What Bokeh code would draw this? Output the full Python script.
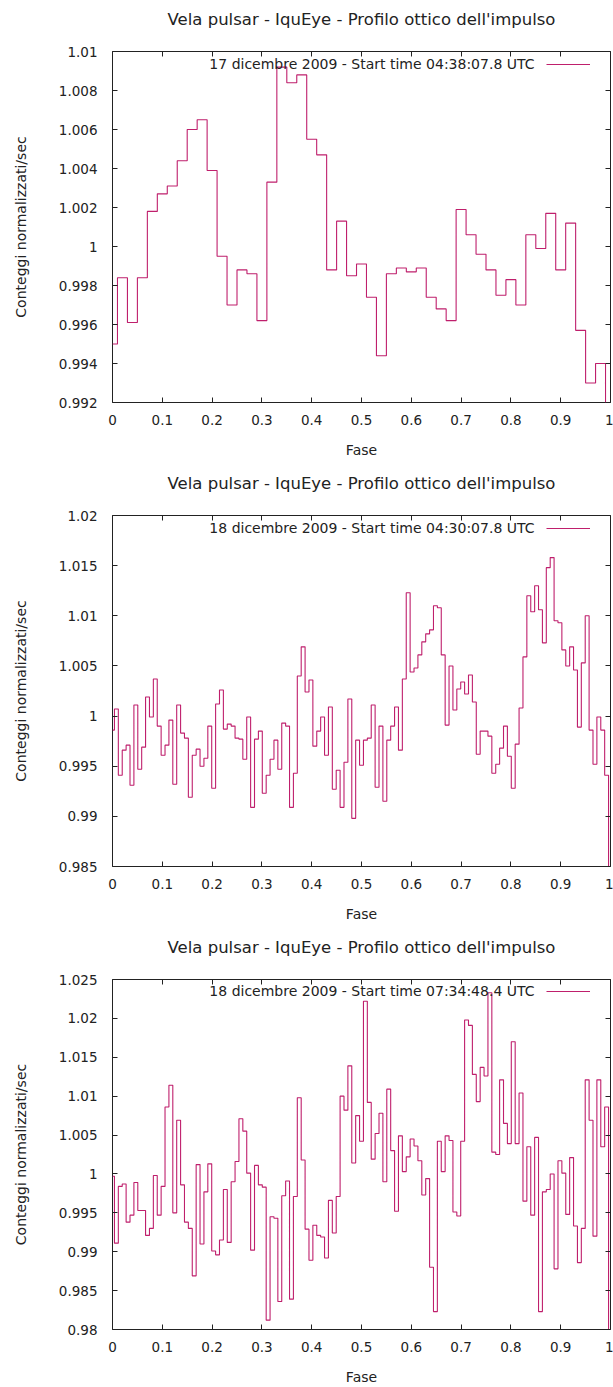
from bokeh.plotting import figure
from bokeh.layouts import column
from bokeh.models import FixedTicker, LinearAxis, Range1d, Label, Legend, LegendItem, Title
from bokeh.embed import file_html
from bokeh.resources import INLINE

# ---------------------------------------------------------------- data
TITLE = "Vela pulsar - IquEye - Profilo ottico dell'impulso"
X_LABEL = "Fase"
Y_LABEL = "Conteggi normalizzati/sec"

phase_ticks = [0.0, 0.1, 0.2, 0.3, 0.4, 0.5, 0.6, 0.7, 0.8, 0.9, 1.0]
phase_labels = ["0", "0.1", "0.2", "0.3", "0.4", "0.5", "0.6", "0.7", "0.8", "0.9", "1"]

# 17 Dec 2009, start 04:38:07.8 UTC - 50 phase bins
note_1 = "17 dicembre 2009 - Start time 04:38:07.8 UTC"
profile_1 = [
    0.9950, 0.9984, 0.9961, 0.9984, 1.0018, 1.0027, 1.0031, 1.0044, 1.0060, 1.0065,
    1.0039, 0.9995, 0.9970, 0.9988, 0.9986, 0.9962, 1.0033, 1.0092, 1.0084, 1.0088,
    1.0055, 1.0047, 0.9988, 1.0013, 0.9985, 0.9991, 0.9974, 0.9944, 0.9986, 0.9989,
    0.9987, 0.9989, 0.9974, 0.9968, 0.9962, 1.0019, 1.0006, 0.9996, 0.9988, 0.9975,
    0.9983, 0.9970, 1.0006, 0.9999, 1.0017, 0.9988, 1.0012, 0.9957, 0.9930, 0.9940,
]
y_ticks_1 = [0.992, 0.994, 0.996, 0.998, 1.0, 1.002, 1.004, 1.006, 1.008, 1.01]
y_labels_1 = ["0.992", "0.994", "0.996", "0.998", "1", "1.002", "1.004", "1.006", "1.008", "1.01"]

# 18 Dec 2009, start 04:30:07.8 UTC - 128 phase bins
note_2 = "18 dicembre 2009 - Start time 04:30:07.8 UTC"
profile_2 = [
    0.9986, 1.0007, 0.9941, 0.9966, 0.9971, 0.9931, 1.0011, 0.9947, 0.9969, 1.0019,
    0.9999, 1.0037, 0.9990, 0.9961, 0.9971, 0.9996, 0.9932, 1.0011, 0.9983, 0.9978,
    0.9919, 0.9961, 0.9967, 0.9950, 0.9958, 0.9990, 0.9928, 1.0012, 1.0026, 0.9987,
    0.9992, 0.9990, 0.9978, 0.9977, 0.9957, 0.9999, 0.9909, 0.9977, 0.9985, 0.9923,
    0.9941, 0.9957, 0.9976, 0.9947, 0.9993, 0.9990, 0.9909, 0.9943, 1.0040, 1.0069,
    1.0024, 1.0036, 0.9970, 0.9985, 0.9999, 0.9961, 1.0009, 0.9927, 0.9946, 0.9909,
    0.9954, 1.0017, 0.9898, 0.9976, 0.9951, 0.9976, 0.9978, 1.0011, 0.9929, 0.9990,
    0.9915, 0.9976, 0.9990, 1.0009, 0.9966, 1.0037, 1.0123, 1.0044, 1.0048, 1.0061,
    1.0074, 1.0082, 1.0086, 1.0110, 1.0108, 1.0061, 0.9991, 1.0050, 1.0006, 1.0027,
    1.0034, 1.0022, 1.0041, 1.0014, 0.9962, 0.9985, 0.9985, 0.9980, 0.9943, 0.9952,
    0.9968, 0.9990, 0.9960, 0.9928, 0.9972, 1.0008, 1.0059, 1.0120, 1.0104, 1.0130,
    1.0106, 1.0073, 1.0148, 1.0158, 1.0095, 1.0093, 1.0066, 1.0050, 1.0069, 1.0046,
    0.9989, 1.0053, 1.0100, 0.9986, 0.9952, 0.9999, 0.9986, 0.9941,
]
y_ticks_2 = [0.985, 0.99, 0.995, 1.0, 1.005, 1.01, 1.015, 1.02]
y_labels_2 = ["0.985", "0.99", "0.995", "1", "1.005", "1.01", "1.015", "1.02"]

# 18 Dec 2009, start 07:34:48.4 UTC - 128 phase bins
note_3 = "18 dicembre 2009 - Start time 07:34:48.4 UTC"
profile_3 = [
    0.9997, 0.9911, 0.9984, 0.9987, 0.9938, 0.9947, 0.9989, 0.9953, 0.9953, 0.9921,
    0.9930, 0.9998, 0.9947, 0.9984, 1.0086, 1.0114, 0.9950, 1.0069, 0.9986, 0.9938,
    0.9930, 0.9869, 1.0012, 0.9910, 0.9977, 1.0013, 0.9901, 0.9896, 0.9915, 0.9980,
    0.9912, 0.9990, 1.0016, 1.0071, 1.0055, 1.0001, 0.9902, 1.0011, 0.9986, 0.9983,
    0.9812, 0.9945, 0.9943, 0.9836, 0.9972, 0.9991, 0.9839, 0.9971, 1.0098, 1.0018,
    0.9929, 0.9889, 0.9934, 0.9921, 0.9919, 0.9892, 0.9966, 0.9924, 0.9971, 1.0100,
    1.0082, 1.0139, 1.0014, 1.0075, 1.0042, 1.0222, 1.0092, 1.0019, 1.0052, 1.0078,
    0.9990, 1.0109, 1.0030, 0.9952, 1.0049, 1.0003, 1.0022, 1.0045, 1.0036, 1.0017,
    0.9973, 0.9994, 0.9880, 0.9823, 1.0042, 1.0003, 1.0049, 1.0043, 0.9951, 0.9946,
    1.0042, 1.0198, 1.0191, 1.0128, 1.0093, 1.0137, 1.0126, 1.0233, 1.0028, 1.0025,
    1.0121, 1.0065, 1.0039, 1.0170, 1.0039, 1.0104, 0.9965, 1.0035, 0.9947, 1.0047,
    0.9823, 0.9977, 0.9980, 1.0000, 0.9878, 1.0017, 1.0001, 0.9948, 1.0021, 0.9933,
    0.9886, 0.9930, 1.0121, 1.0069, 0.9920, 1.0121, 1.0035, 1.0086,
]
y_ticks_3 = [0.98, 0.985, 0.99, 0.995, 1.0, 1.005, 1.01, 1.015, 1.02, 1.025]
y_labels_3 = ["0.98", "0.985", "0.99", "0.995", "1", "1.005", "1.01", "1.015", "1.02", "1.025"]

# ---------------------------------------------------------------- style
FONT = "DejaVu Sans"
INK = "#222222"
TRACE = "#bf1f6c"
FRAME_H = 351


def step_coords(values):
    """Histogram steps centred on k/n; the trace closes down to zero at the end."""
    n = len(values)
    xs = [0.0] + [(k + 0.5) / n for k in range(n)]
    ys = list(values) + [0.0]
    return xs, ys


def style_axis(ax, ticks, labels, show_labels=True):
    ax.ticker = FixedTicker(ticks=ticks)
    ax.axis_line_color = None
    ax.major_tick_in = 5
    ax.major_tick_out = 0
    ax.major_tick_line_color = INK
    ax.minor_tick_line_color = None
    if show_labels:
        ax.major_label_overrides = dict(zip(ticks, labels))
        ax.major_label_text_font = FONT
        ax.major_label_text_font_size = "13.5px"
        ax.major_label_text_color = INK
        ax.axis_label_text_font = FONT
        ax.axis_label_text_font_size = "14px"
        ax.axis_label_text_font_style = "normal"
        ax.axis_label_text_color = INK
    else:
        # tick marks only
        ax.major_label_text_color = None
        ax.major_label_text_font_size = "0px"
        ax.major_label_standoff = 0


def make_panel(values, y_lo, y_hi, y_ticks, y_labels, note, height, border_bottom):
    p = figure(width=613, height=height, title=None,
               x_range=Range1d(0, 1), y_range=Range1d(y_lo, y_hi),
               output_backend="svg", toolbar_location=None,
               min_border_left=112, min_border_right=3,
               min_border_top=51, min_border_bottom=border_bottom,
               x_axis_label=X_LABEL, y_axis_label=Y_LABEL)

    p.xgrid.visible = False
    p.ygrid.visible = False
    p.outline_line_color = INK
    p.outline_line_width = 1
    p.outline_line_alpha = 1
    p.background_fill_color = "white"
    p.border_fill_color = "white"

    xs, ys = step_coords(values)
    trace = p.step(xs, ys, mode="after", line_color=TRACE, line_width=1.1)

    style_axis(p.xaxis[0], phase_ticks, phase_labels)
    p.xaxis[0].major_label_standoff = 12
    p.xaxis[0].axis_label_standoff = 14
    style_axis(p.yaxis[0], y_ticks, y_labels)
    p.yaxis[0].major_label_standoff = 15
    p.yaxis[0].axis_label_standoff = 27

    # mirrored ticks on the top and right border
    top = LinearAxis()
    style_axis(top, phase_ticks, phase_labels, show_labels=False)
    p.add_layout(top, "above")
    right = LinearAxis()
    style_axis(right, y_ticks, y_labels, show_labels=False)
    p.add_layout(right, "right")

    # blank band between the frame and the title: one white tick on white border
    gap = LinearAxis(ticker=FixedTicker(ticks=[0.5]), axis_line_color=None,
                     major_tick_in=-3, major_tick_out=23,
                     major_tick_line_color="#ffffff", major_tick_line_alpha=1.0,
                     minor_tick_line_color=None, major_label_standoff=0,
                     major_label_text_font_size="0px", major_label_text_color=None)
    p.add_layout(gap, "above")

    p.add_layout(Title(text=TITLE, align="center", text_font=FONT,
                       text_font_size="16.5px", text_font_style="normal",
                       text_color=INK, standoff=0), "above")

    # key: text on the left, line sample on the right
    p.add_layout(Label(x=422, y=FRAME_H - 12.5, x_units="screen", y_units="screen",
                       text=note, text_align="right", text_baseline="middle",
                       text_font=FONT, text_font_size="14px", text_color=INK))
    key = Legend(items=[LegendItem(label=" ", renderers=[trace])],
                 location=(434, FRAME_H - 14), glyph_width=44, glyph_height=2,
                 label_width=0, label_height=2, label_standoff=0,
                 label_text_font_size="1px", label_text_color=None,
                 padding=0, margin=0, spacing=0,
                 border_line_color=None, background_fill_alpha=0)
    p.add_layout(key)
    return p


p1 = make_panel(profile_1, 0.992, 1.01, y_ticks_1, y_labels_1, note_1, 464, 62)
p2 = make_panel(profile_2, 0.985, 1.02, y_ticks_2, y_labels_2, note_2, 464, 62)
p3 = make_panel(profile_3, 0.98, 1.025, y_ticks_3, y_labels_3, note_3, 459, 57)

page = column(p1, p2, p3, spacing=0)
open("out.html", "w").write(file_html(page, INLINE))
